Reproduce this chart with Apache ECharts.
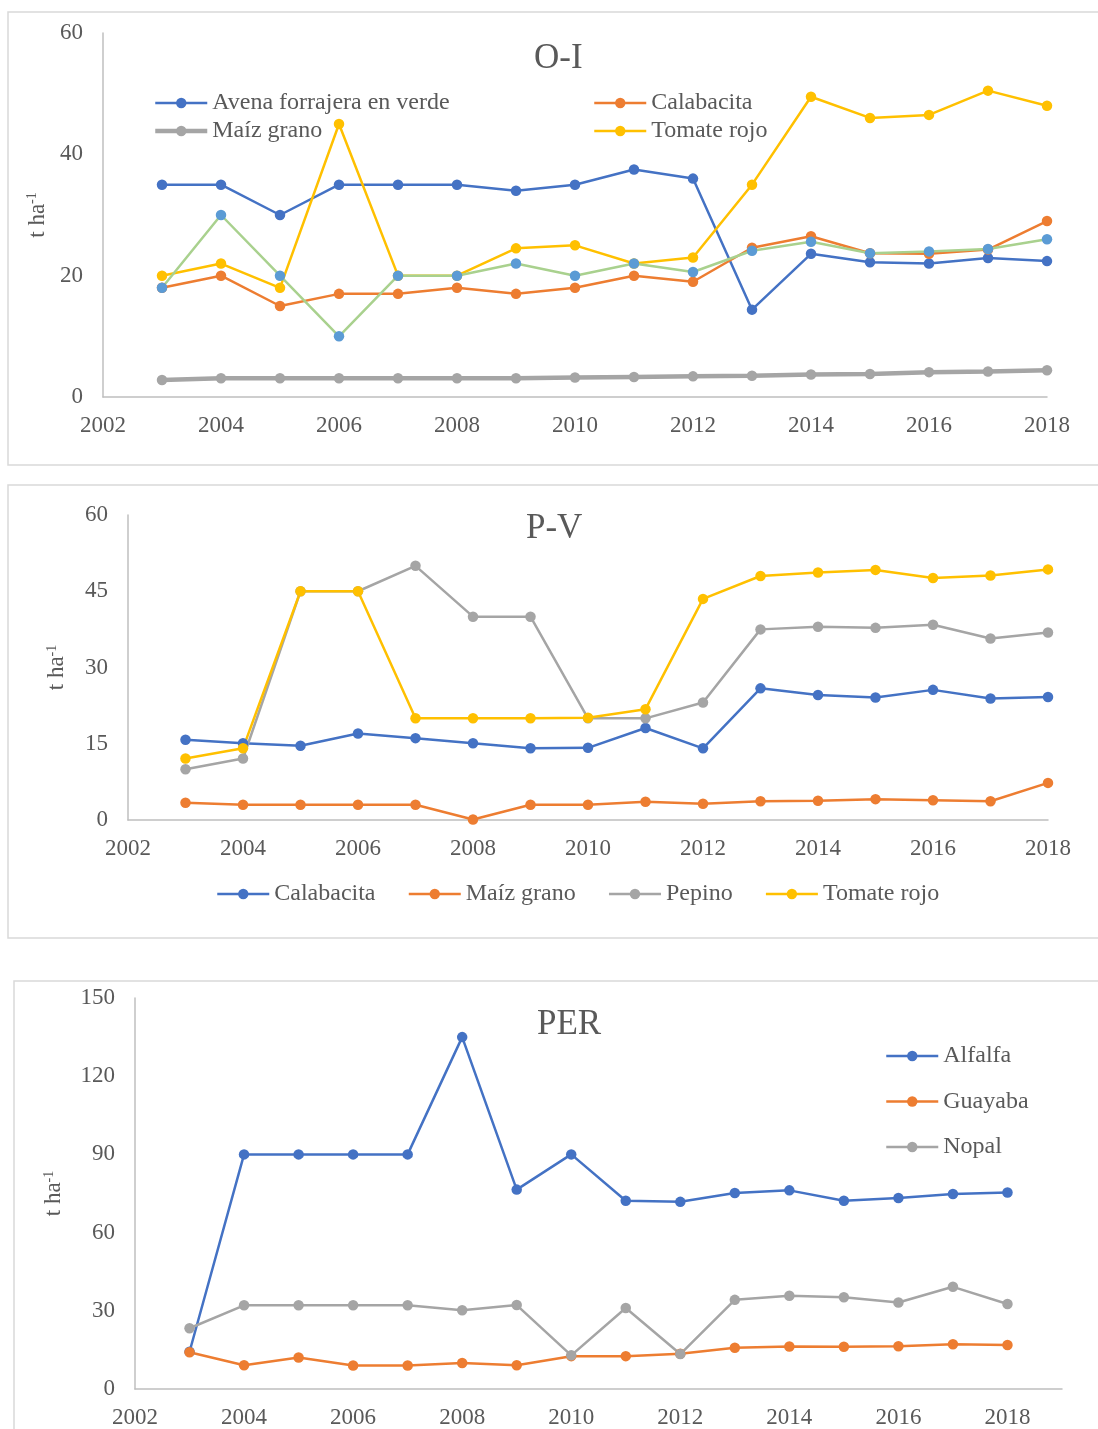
<!DOCTYPE html>
<html>
<head>
<meta charset="utf-8">
<script src="https://cdn.jsdelivr.net/npm/echarts@6/dist/echarts.min.js"></script>
<style>
  html, body { margin: 0; padding: 0; background: #fff; }
  #main { width: 1098px; height: 1429px; }
</style>
</head>
<body>
<div id="main"></div>
<script>
// years on the x axis (same for every panel)
const years = [2003, 2004, 2005, 2006, 2007, 2008, 2009, 2010, 2011, 2012, 2013, 2014, 2015, 2016, 2017, 2018];

// O-I panel
const oiAvena = [35, 35, 30, 35, 35, 35, 34, 35, 37.5, 36, 14.4, 23.6, 22.2, 22, 22.9, 22.4];
const oiCalabacita = [18, 20, 15, 17, 17, 18, 17, 18, 20, 19, 24.6, 26.5, 23.7, 23.6, 24.3, 29];
const oiMaiz = [2.8, 3.1, 3.1, 3.1, 3.1, 3.1, 3.1, 3.2, 3.3, 3.4, 3.5, 3.7, 3.8, 4.1, 4.2, 4.4];
const oiTomate = [20, 22, 18, 45, 20, 20, 24.5, 25, 22, 23, 35, 49.5, 46, 46.5, 50.5, 48];
const oiOtro = [18, 30, 20, 10, 20, 20, 22, 20, 22, 20.6, 24.1, 25.6, 23.7, 24, 24.4, 26];

// P-V panel
const pvCalabacita = [15.8, 15.1, 14.6, 17, 16.1, 15.1, 14.1, 14.2, 18.1, 14.1, 25.9, 24.6, 24.1, 25.6, 23.9, 24.2];
const pvMaiz = [3.4, 3, 3, 3, 3, 0.1, 3, 3, 3.6, 3.2, 3.7, 3.8, 4.1, 3.9, 3.7, 7.3];
const pvPepino = [10, 12.1, 45, 45, 50, 40, 40, 20, 20, 23.1, 37.5, 38, 37.8, 38.4, 35.7, 36.9];
const pvTomate = [12.1, 14.1, 45, 45, 20, 20, 20, 20.1, 21.8, 43.5, 48, 48.7, 49.2, 47.6, 48.1, 49.3];

// PER panel
const perAlfalfa = [14.3, 90, 90, 90, 90, 135, 76.5, 90, 72.2, 71.8, 75.2, 76.2, 72.2, 73.3, 74.8, 75.4];
const perGuayaba = [14.1, 9.1, 12.1, 9, 9, 10, 9.1, 12.6, 12.6, 13.5, 15.8, 16.3, 16.2, 16.4, 17.2, 16.9];
const perNopal = [23.3, 32.1, 32.1, 32.1, 32.1, 30.2, 32.2, 12.9, 31.1, 13.4, 34.2, 35.8, 35.2, 33.2, 39.2, 32.6];

// tick settings
const oiTicks = { min: 0, max: 60, interval: 20 };
const pvTicks = { min: 0, max: 60, interval: 15 };
const perTicks = { min: 0, max: 150, interval: 30 };

const BLUE = '#4472C4', ORANGE = '#ED7D31', GREY = '#A5A5A5', YELLOW = '#FFC000';
const LBLUE = '#5B9BD5', GREEN = '#A9D18E';
const TXT = '#595959';
const FONT = '"Liberation Serif", "Times New Roman", serif';

function pts(vals) {
  return vals.map((v, i) => [years[i], v]);
}

function mkSeries(name, vals, idx, color, opts) {
  opts = opts || {};
  return {
    name: name,
    type: 'line',
    xAxisIndex: idx,
    yAxisIndex: idx,
    data: pts(vals),
    symbol: 'circle',
    symbolSize: 10.5,
    showAllSymbol: true,
    lineStyle: { color: opts.lineColor || color, width: opts.width || 2.5 },
    itemStyle: { color: color },
    emphasis: { disabled: true }
  };
}

function xAx(idx, max) {
  return {
    gridIndex: idx,
    type: 'value',
    min: 2002,
    max: max,
    interval: 2,
    axisLine: { show: true, lineStyle: { color: '#bfbfbf', width: 1.5 } },
    axisTick: { show: false },
    splitLine: { show: false },
    axisLabel: {
      color: TXT, fontFamily: FONT, fontSize: 23, margin: 17,
      showMaxLabel: max === 2018,
      formatter: v => String(v)
    }
  };
}

function yAx(idx, ticks, gap) {
  return {
    gridIndex: idx,
    type: 'value',
    min: ticks.min,
    max: ticks.max,
    interval: ticks.interval,
    name: 't ha{sup|-1}',
    nameLocation: 'middle',
    nameRotate: 90,
    nameGap: gap,
    nameTextStyle: {
      color: TXT, fontFamily: FONT, fontSize: 23,
      rich: { sup: { color: TXT, fontFamily: FONT, fontSize: 14, verticalAlign: 'top', padding: [0, 0, 10, 0] } }
    },
    axisLine: { show: true, lineStyle: { color: '#bfbfbf', width: 1.5 } },
    axisTick: { show: false },
    splitLine: { show: false },
    axisLabel: { color: TXT, fontFamily: FONT, fontSize: 23, margin: 20 }
  };
}

const legendText = { color: TXT, fontFamily: FONT, fontSize: 24 };
const titleText = { color: TXT, fontFamily: FONT, fontSize: 35, fontWeight: 'normal' };
const legendBase = { padding: 0, itemWidth: 52, itemHeight: 13, textStyle: legendText, lineStyle: { width: 2.5 } };

const chart = echarts.init(document.getElementById('main'));
chart.setOption({
  animation: false,
  backgroundColor: '#fff',
  graphic: [
    { type: 'rect', shape: { x: 8, y: 12, width: 1200, height: 453 }, style: { fill: 'none', stroke: '#d9d9d9', lineWidth: 1.5 }, silent: true },
    { type: 'rect', shape: { x: 8, y: 485, width: 1200, height: 453 }, style: { fill: 'none', stroke: '#d9d9d9', lineWidth: 1.5 }, silent: true },
    { type: 'rect', shape: { x: 14, y: 981, width: 1200, height: 500 }, style: { fill: 'none', stroke: '#d9d9d9', lineWidth: 1.5 }, silent: true }
  ],
  title: [
    { text: 'O-I', left: 534, top: 41, padding: 0, textStyle: titleText },
    { text: 'P-V', left: 526, top: 511, padding: 0, textStyle: titleText },
    { text: 'PER', left: 537, top: 1007, padding: 0, textStyle: titleText }
  ],
  legend: [
    Object.assign({}, legendBase, {
      data: ['Avena forrajera en verde', { name: 'Maíz grano', lineStyle: { width: 4.5 } }],
      orient: 'vertical', left: 153, top: 91, itemGap: 4
    }),
    Object.assign({}, legendBase, {
      data: ['Calabacita', 'Tomate rojo'],
      orient: 'vertical', left: 593, top: 91, itemGap: 4
    }),
    Object.assign({}, legendBase, {
      data: ['Calabacita ', 'Maíz grano ', 'Pepino', 'Tomate rojo '],
      orient: 'horizontal', left: 216, top: 882, itemGap: 32,
      formatter: n => n.trim()
    }),
    Object.assign({}, legendBase, {
      data: ['Alfalfa', 'Guayaba', 'Nopal'],
      orient: 'vertical', left: 885, top: 1044, itemGap: 21.5
    })
  ],
  grid: [
    { left: 103, top: 33, width: 944, height: 364 },
    { left: 128, top: 515, width: 920, height: 305 },
    { left: 135, top: 998, width: 927, height: 391 }
  ],
  xAxis: [xAx(0, 2018), xAx(1, 2018), xAx(2, 2019)],
  yAxis: [yAx(0, oiTicks, 51), yAx(1, pvTicks, 59), yAx(2, perTicks, 69)],
  series: [
    mkSeries('Avena forrajera en verde', oiAvena, 0, BLUE),
    mkSeries('Calabacita', oiCalabacita, 0, ORANGE),
    mkSeries('Maíz grano', oiMaiz, 0, GREY, { width: 4.5 }),
    mkSeries('Tomate rojo', oiTomate, 0, YELLOW),
    mkSeries('Otro cultivo', oiOtro, 0, LBLUE, { lineColor: GREEN }),

    mkSeries('Calabacita ', pvCalabacita, 1, BLUE),
    mkSeries('Maíz grano ', pvMaiz, 1, ORANGE),
    mkSeries('Pepino', pvPepino, 1, GREY),
    mkSeries('Tomate rojo ', pvTomate, 1, YELLOW),

    mkSeries('Alfalfa', perAlfalfa, 2, BLUE),
    mkSeries('Guayaba', perGuayaba, 2, ORANGE),
    mkSeries('Nopal', perNopal, 2, GREY)
  ]
});
</script>
</body>
</html>
